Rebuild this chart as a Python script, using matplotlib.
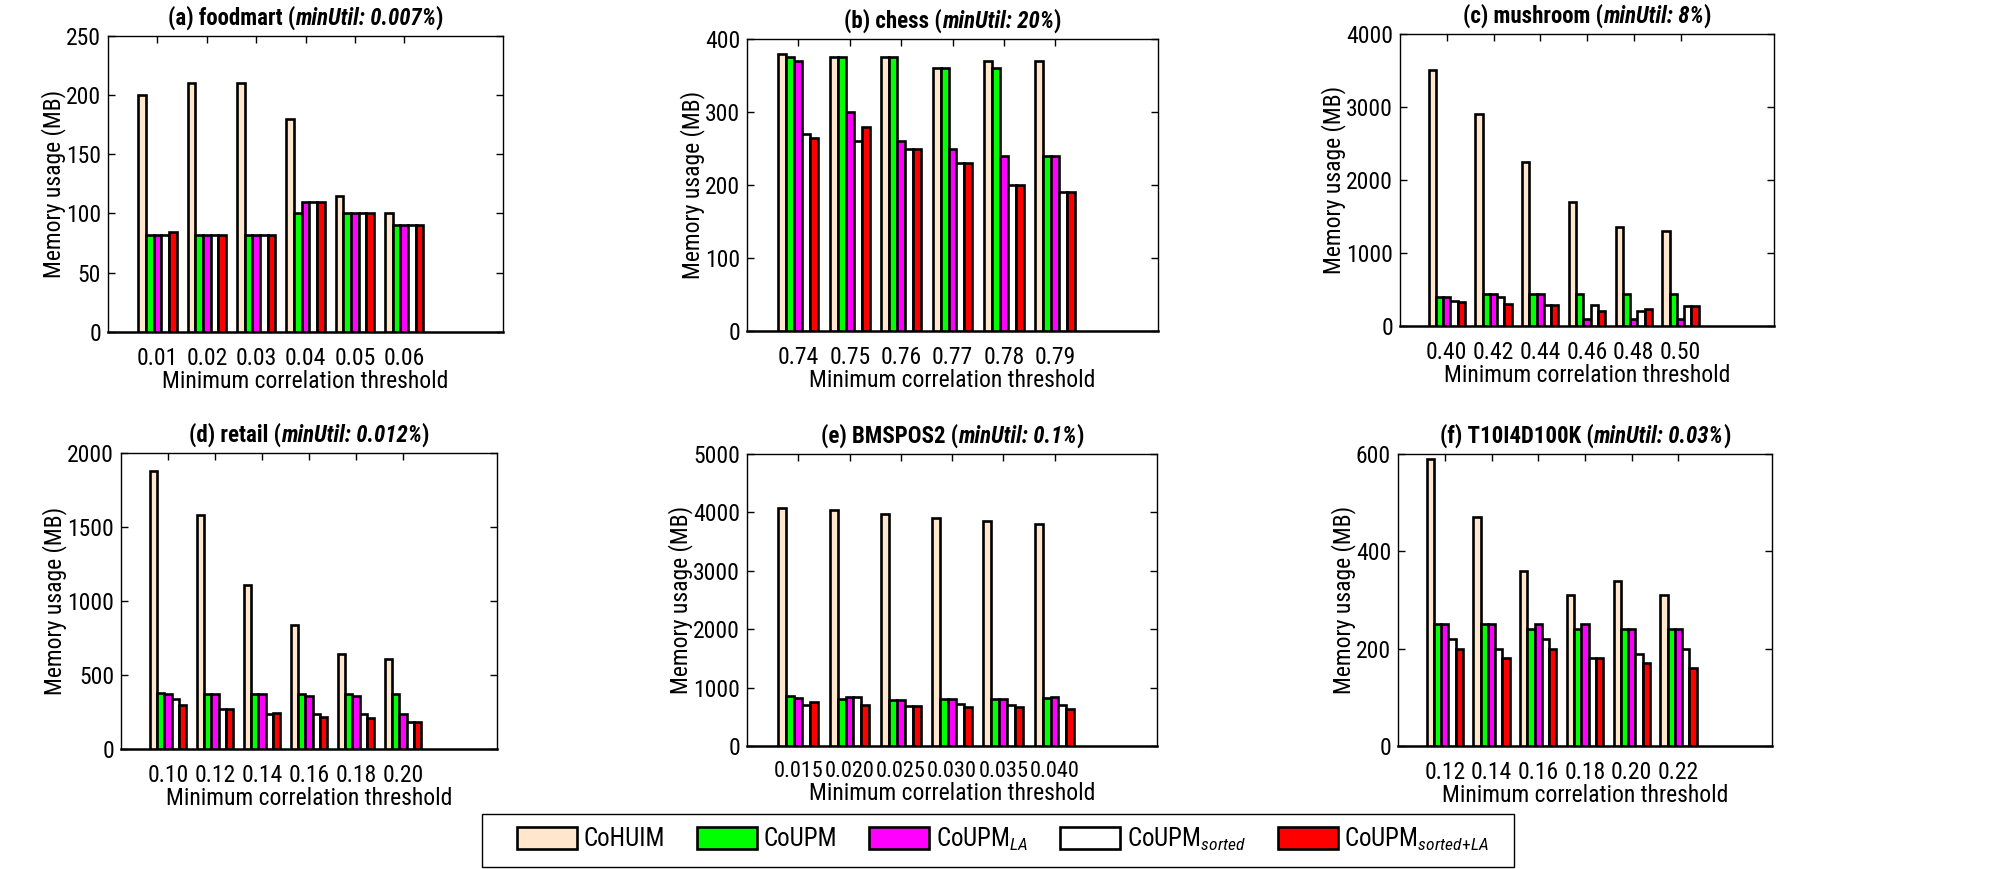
import matplotlib
matplotlib.use("Agg")
import matplotlib.pyplot as plt
from matplotlib.patches import Patch, Rectangle
import numpy as np

FONT = "Roboto Condensed"
plt.rcParams["font.family"] = [FONT, "DejaVu Sans"]
plt.rcParams["mathtext.fontset"] = "custom"
plt.rcParams["mathtext.rm"] = FONT
plt.rcParams["mathtext.it"] = FONT + ":italic"
plt.rcParams["mathtext.bf"] = FONT + ":bold"

# series names and colours
methods = ["CoHUIM", "CoUPM", r"CoUPM$_{LA}$", r"CoUPM$_{sorted}$",
           r"CoUPM$_{sorted\!+\!LA}$"]
colors = ["#FFE6CC", "#00FF00", "#FF00FF", "#FFFFFF", "#FF0000"]

# (a) foodmart
foodmart_x = ["0.01", "0.02", "0.03", "0.04", "0.05", "0.06"]
foodmart = [[200, 82, 82, 82, 84],
            [210, 82, 82, 82, 82],
            [210, 82, 82, 82, 82],
            [180, 100, 110, 110, 110],
            [115, 100, 100, 100, 100],
            [100, 90, 90, 90, 90]]

# (b) chess
chess_x = ["0.74", "0.75", "0.76", "0.77", "0.78", "0.79"]
chess = [[380, 375, 370, 270, 265],
         [375, 375, 300, 260, 280],
         [375, 375, 260, 250, 250],
         [360, 360, 250, 230, 230],
         [370, 360, 240, 200, 200],
         [370, 240, 240, 190, 190]]

# (c) mushroom
mushroom_x = ["0.40", "0.42", "0.44", "0.46", "0.48", "0.50"]
mushroom = [[3500, 400, 400, 340, 330],
            [2900, 430, 430, 400, 300],
            [2240, 430, 430, 280, 280],
            [1700, 430, 100, 280, 200],
            [1360, 430, 100, 200, 230],
            [1300, 430, 100, 270, 270]]

# (d) retail
retail_x = ["0.10", "0.12", "0.14", "0.16", "0.18", "0.20"]
retail = [[1880, 380, 375, 340, 300],
          [1580, 375, 375, 270, 270],
          [1110, 375, 375, 240, 245],
          [840, 375, 360, 240, 220],
          [640, 375, 360, 240, 210],
          [610, 375, 240, 180, 180]]

# (e) BMSPOS2
bms_x = ["0.015", "0.020", "0.025", "0.030", "0.035", "0.040"]
bms = [[4080, 850, 830, 700, 750],
       [4040, 800, 840, 840, 700],
       [3970, 790, 790, 690, 690],
       [3900, 800, 800, 720, 670],
       [3860, 800, 800, 700, 670],
       [3800, 820, 840, 700, 630]]

# (f) T10I4D100K
t10_x = ["0.12", "0.14", "0.16", "0.18", "0.20", "0.22"]
t10 = [[590, 250, 250, 220, 200],
       [470, 250, 250, 200, 180],
       [360, 240, 250, 220, 200],
       [310, 240, 250, 180, 180],
       [340, 240, 240, 190, 170],
       [310, 240, 240, 200, 160]]

panels = [
    ("(a) foodmart (", "minUtil: 0.007%", foodmart_x, foodmart, np.arange(0, 251, 50)),
    ("(b) chess (", "minUtil: 20%", chess_x, chess, np.arange(0, 401, 100)),
    ("(c) mushroom (", "minUtil: 8%", mushroom_x, mushroom, np.arange(0, 4001, 1000)),
    ("(d) retail (", "minUtil: 0.012%", retail_x, retail, np.arange(0, 2001, 500)),
    ("(e) BMSPOS2 (", "minUtil: 0.1%", bms_x, bms, np.arange(0, 5001, 1000)),
    ("(f) T10I4D100K (", "minUtil: 0.03%", t10_x, t10, np.arange(0, 601, 200)),
]

# axes rectangles [left, bottom, width, height] in figure fraction
positions = [
    [0.054, 0.618, 0.1975, 0.341],
    [0.3735, 0.619, 0.2055, 0.336],
    [0.700, 0.625, 0.187, 0.336],
    [0.0605, 0.138, 0.188, 0.3406],
    [0.3735, 0.1415, 0.205, 0.336],
    [0.699, 0.1415, 0.187, 0.336],
]

fig = plt.figure(figsize=(20, 8.69), dpi=100)
renderer = fig.canvas.get_renderer()


def mixed_title(ax, parts, pad_px=6, size=16.5):
    # bold title with a bold-italic middle part, centred over the axes
    texts = [ax.text(0, 1, s, transform=ax.transAxes, fontsize=size,
                     fontweight="bold", fontstyle=st, ha="left", va="bottom")
             for s, st in parts]
    bb = ax.get_window_extent(renderer)
    widths = [t.get_window_extent(renderer).width for t in texts]
    x = 0.5 - sum(widths) / 2 / bb.width
    for t, w in zip(texts, widths):
        t.set_position((x, 1 + pad_px / bb.height))
        x += w / bb.width


bw = 0.155
for i, ((t1, t2, xl, vals, yt), pos) in enumerate(zip(panels, positions)):
    ax = fig.add_axes(pos)
    vals = np.array(vals)
    x = np.arange(1, len(xl) + 1)
    for k in range(5):
        ax.bar(x + (k - 2) * bw, vals[:, k], width=bw, color=colors[k],
               edgecolor="black", linewidth=1.9, zorder=3)
    ax.set_xlim(0, 8)
    ax.set_ylim(yt[0], yt[-1])
    ax.set_xticks(x)
    ax.set_xticklabels(xl)
    ax.set_yticks(yt)
    ax.tick_params(direction="in", top=True, right=True, length=5, width=1,
                   labelsize=17, pad=5)
    ax.tick_params(axis="x", pad=11, labelsize=16 if i == 4 else 17)
    for s in ax.spines.values():
        s.set_linewidth(1.0)
    ax.spines["bottom"].set_linewidth(1.8)
    ax.set_xlabel("Minimum correlation threshold", fontsize=17, labelpad=0)
    ax.set_ylabel("Memory usage (MB)", fontsize=17, labelpad=0)
    mixed_title(ax, [(t1, "normal"), (t2, "italic"), (")", "normal")])

handles = [Patch(facecolor=c, edgecolor="black", linewidth=1.9) for c in colors]
leg = fig.legend(handles, methods, loc="upper center", ncol=5,
                 bbox_to_anchor=(0.5015, 1 - 803 / 869), frameon=False,
                 fontsize=18, handlelength=2.4, handleheight=1.0,
                 handletextpad=0.25, columnspacing=1.3)
fig.patches.append(Rectangle((482 / 2000, 2 / 869), 1032 / 2000, 53 / 869,
                             transform=fig.transFigure, fill=False,
                             edgecolor="black", linewidth=1.0))

fig.savefig("out.png", dpi=100)
